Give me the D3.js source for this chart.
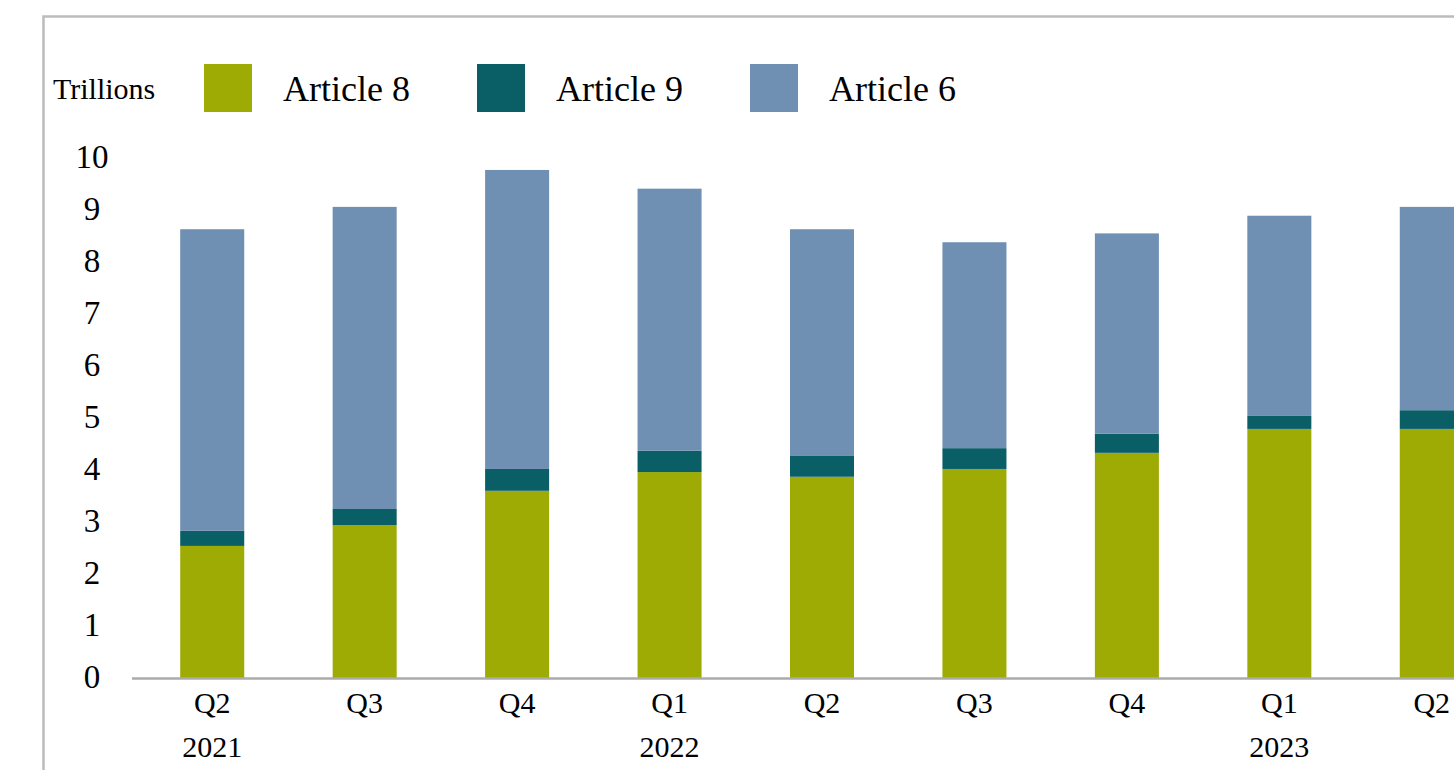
<html>

<head>
    <script src="https://d3js.org/d3.v7.min.js"></script>
    <style>
        body {
            margin: 0;
            background: white;
        }

        * {
            font-family: "Liberation Serif", "DejaVu Serif", serif;
        }

        .tick text {
            fill: black;
        }
    </style>
</head>

<body>
    <svg id="chart" width="1454" height="770"></svg>
</body>

<script>
    // Data (trillions)
    const quarters = ["Q2", "Q3", "Q4", "Q1", "Q2", "Q3", "Q4", "Q1", "Q2"];
    const years = ["2021", "", "", "2022", "", "", "", "2023", ""];
    const article8 = [2.54, 2.94, 3.60, 3.96, 3.87, 4.02, 4.33, 4.79, 4.79];
    const article9 = [0.29, 0.31, 0.42, 0.41, 0.40, 0.40, 0.37, 0.25, 0.36];
    const article6 = [5.80, 5.81, 5.75, 5.04, 4.36, 3.96, 3.85, 3.85, 3.91];
    const yTicks = [0, 1, 2, 3, 4, 5, 6, 7, 8, 9, 10];
    const seriesNames = ["Article 8", "Article 9", "Article 6"];
    const seriesColors = ["#9eab05", "#0a5e66", "#6f90b2"];

    const svg = d3.select("#chart");
    const width = +svg.attr("width");

    // frame
    svg.append("rect")
        .attr("x", 43.5).attr("y", 16.5)
        .attr("width", 1500).attr("height", 800)
        .attr("fill", "none")
        .attr("stroke", "#bcbcbc")
        .attr("stroke-width", 2.5);

    const rows = quarters.map((q, i) => ({
        key: i + "",
        "Article 8": article8[i],
        "Article 9": article9[i],
        "Article 6": article6[i]
    }));

    const x = d3.scaleBand()
        .domain(rows.map(d => d.key))
        .range([136, 1508])
        .paddingInner(0.58)
        .paddingOuter(0.29);

    const y = d3.scaleLinear().domain([0, 10]).range([678, 158]);
    const color = d3.scaleOrdinal().domain(seriesNames).range(seriesColors);

    const stacked = d3.stack().keys(seriesNames)(rows);

    // bars
    svg.append("g").selectAll("g")
        .data(stacked)
        .join("g")
        .attr("fill", d => color(d.key))
        .selectAll("rect")
        .data(d => d)
        .join("rect")
        .attr("x", d => x(d.data.key))
        .attr("width", x.bandwidth())
        .attr("y", d => y(d[1]))
        .attr("height", d => y(d[0]) - y(d[1]));

    // y axis labels
    const leftAxis = d3.axisLeft(y).tickValues(yTicks).tickSize(0).tickPadding(0);
    const yg = svg.append("g")
        .attr("transform", "translate(92,0)")
        .call(leftAxis);
    yg.select(".domain").remove();
    yg.selectAll("text")
        .attr("text-anchor", "middle")
        .attr("dy", "0.28em")
        .style("font-size", "33px");

    // x axis line
    svg.append("line")
        .attr("x1", 132).attr("x2", width)
        .attr("y1", 678.5).attr("y2", 678.5)
        .attr("stroke", "#ababab")
        .attr("stroke-width", 2.5);

    // quarter labels
    const bottomAxis = d3.axisBottom(x)
        .tickSize(0)
        .tickFormat((d, i) => quarters[i]);
    const xg = svg.append("g")
        .attr("transform", "translate(0,678)")
        .call(bottomAxis);
    xg.select(".domain").remove();
    xg.selectAll("text")
        .attr("y", 35)
        .attr("dy", 0)
        .style("font-size", "30px");

    // year labels
    svg.append("g").selectAll("text")
        .data(rows.filter((d, i) => years[i] !== ""))
        .join("text")
        .attr("x", d => x(d.key) + x.bandwidth() / 2)
        .attr("y", 757)
        .attr("text-anchor", "middle")
        .style("font-size", "30px")
        .text(d => years[+d.key]);

    // legend
    svg.append("text")
        .attr("x", 53).attr("y", 99)
        .style("font-size", "30px")
        .text("Trillions");

    const legendX = [204, 477, 750];
    const legend = svg.append("g").selectAll("g")
        .data(seriesNames)
        .join("g")
        .attr("transform", (d, i) => `translate(${legendX[i]},64)`);
    legend.append("rect")
        .attr("width", 48).attr("height", 48)
        .attr("fill", d => color(d));
    legend.append("text")
        .attr("x", 79).attr("y", 37)
        .style("font-size", "36px")
        .text(d => d);
</script>

</html>
